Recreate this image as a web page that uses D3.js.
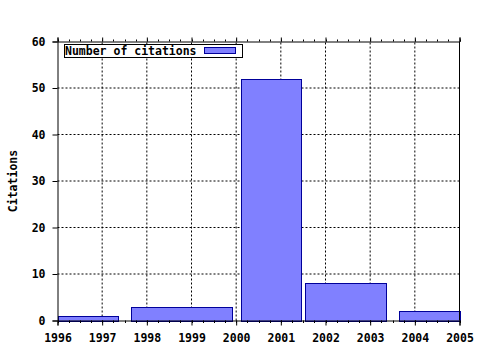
<!DOCTYPE html>
<html>
<head>
<meta charset="utf-8">
<script src="https://cdn.jsdelivr.net/npm/d3@7"></script>
<style>
  body { margin: 0; background: #fff; }
  svg text { font-family: "DejaVu Sans Mono", "Liberation Mono", monospace; font-weight: bold; }
</style>
</head>
<body>
<div id="chart"></div>
<script>
// data: each bar spans a range of years
const binStart = [1996, 1997.65, 2000.1, 2001.55, 2003.65];
const binEnd   = [1997.35, 1999.9, 2001.45, 2003.35, 2005];
const citations = [1, 3, 52, 8, 2];
const yearTicks = [1996, 1997, 1998, 1999, 2000, 2001, 2002, 2003, 2004, 2005];
const yTicks = [0, 10, 20, 30, 40, 50, 60];
const seriesName = "Number of citations";

const W = 480, H = 350;
const m = { left: 57.5, right: 20.5, top: 41.5, bottom: 29.5 };

const svg = d3.select("#chart").append("svg").attr("width", W).attr("height", H);

const x = d3.scaleLinear().domain([1996, 2005]).range([m.left, W - m.right]);
const y = d3.scaleLinear().domain([0, 60]).range([H - m.bottom, m.top]);

// grid
svg.append("g").selectAll("line").data(yearTicks.slice(1, -1)).enter().append("line")
    .attr("x1", d => x(d)).attr("x2", d => x(d))
    .attr("y1", y(0)).attr("y2", y(60))
    .attr("stroke", "#000").attr("stroke-dasharray", "2,2");
svg.append("g").selectAll("line").data(yTicks.slice(1, -1)).enter().append("line")
    .attr("x1", x(1996)).attr("x2", x(2005))
    .attr("y1", d => y(d)).attr("y2", d => y(d))
    .attr("stroke", "#000").attr("stroke-dasharray", "2,2");

// bars
const bars = citations.map((v, i) => ({ x0: binStart[i], x1: binEnd[i], v }));
svg.append("g").selectAll("rect").data(bars).enter().append("rect")
    .attr("x", d => Math.round(x(d.x0)) + 0.5)
    .attr("width", d => Math.round(x(d.x1)) - Math.round(x(d.x0)))
    .attr("y", d => Math.round(y(d.v)) + 0.5)
    .attr("height", d => Math.round(y(0)) - Math.round(y(d.v)))
    .attr("fill", "#8080ff").attr("stroke", "#00009a");

// axes
const minor = d3.range(1996, 2005.001, 0.25);
const xBottom = d3.axisBottom(x).tickValues(yearTicks).tickFormat(d3.format("d")).tickSize(5).tickPadding(8);
const gx = svg.append("g").attr("transform", `translate(0,${H - m.bottom})`).call(xBottom);
gx.selectAll(".tick text").attr("font-size", "11.5px").attr("fill", "#000");
gx.append("g").selectAll("line").data(minor).enter().append("line")
    .attr("x1", d => Math.round(x(d)) + 0.5).attr("x2", d => Math.round(x(d)) + 0.5)
    .attr("y1", 0).attr("y2", 2.5).attr("stroke", "#000");

const gTop = svg.append("g").attr("transform", `translate(0,${m.top})`)
    .call(d3.axisTop(x).tickValues(yearTicks).tickFormat("").tickSize(4));
gTop.append("g").selectAll("line").data(minor).enter().append("line")
    .attr("x1", d => Math.round(x(d)) + 0.5).attr("x2", d => Math.round(x(d)) + 0.5)
    .attr("y1", 0).attr("y2", -2).attr("stroke", "#000");

const gy = svg.append("g").attr("transform", `translate(${m.left},0)`)
    .call(d3.axisLeft(y).tickValues(yTicks).tickSize(5).tickPadding(7));
gy.selectAll(".tick text").attr("font-size", "11.5px").attr("fill", "#000");

svg.append("line").attr("x1", W - m.right).attr("x2", W - m.right)
    .attr("y1", m.top).attr("y2", H - m.bottom).attr("stroke", "#000");

svg.selectAll(".domain").attr("stroke", "#000");
svg.selectAll(".tick line").attr("stroke", "#000");

// y label
svg.append("text").attr("transform", `translate(17,${(m.top + H - m.bottom) / 2}) rotate(-90)`)
    .attr("text-anchor", "middle").attr("font-size", "11.5px").text("Citations");

// legend
const lg = svg.append("g");
lg.append("rect").attr("x", 64.5).attr("y", 44.5).attr("width", 178).attr("height", 13)
    .attr("fill", "#fff").attr("stroke", "#000");
lg.append("text").attr("x", 65).attr("y", 55).attr("font-size", "11.5px").text(seriesName);
lg.append("rect").attr("x", 204.5).attr("y", 47.5).attr("width", 31).attr("height", 6)
    .attr("fill", "#8080ff").attr("stroke", "#00009a");
</script>
</body>
</html>
